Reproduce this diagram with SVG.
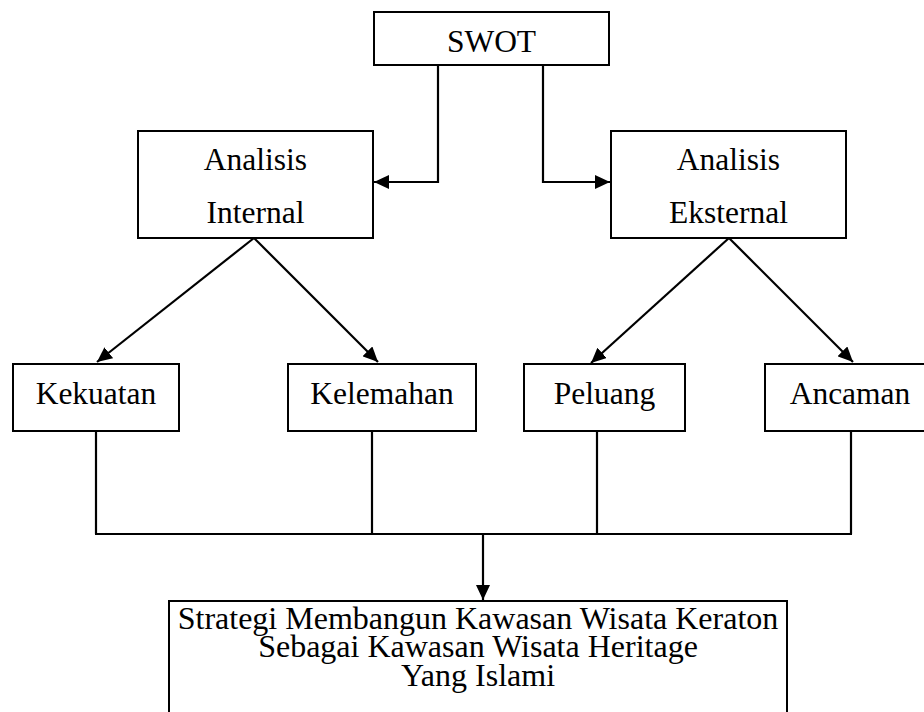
<svg xmlns="http://www.w3.org/2000/svg" width="924" height="712" viewBox="0 0 924 712">
  <style>
    .box { fill: #ffffff; stroke: #000000; stroke-width: 2; }
    .lbl { font-family: "Liberation Serif", "Times New Roman", serif; font-size: 31.5px; fill: #000000; text-anchor: middle; }
    .big { font-size: 32px; }
    .edge { fill: none; stroke: #000000; stroke-width: 2.2; }
  </style>
  <defs>
    <marker id="arr" markerWidth="15" markerHeight="14" refX="15" refY="7" orient="auto" markerUnits="userSpaceOnUse">
      <path d="M0,0 L15,7 L0,14 z" fill="#000000"/>
    </marker>
  </defs>
  <rect x="0" y="0" width="924" height="712" fill="#ffffff"/>

  <g id="connectors">
    <polyline class="edge" points="438,65 438,182 374,182" marker-end="url(#arr)"/>
    <polyline class="edge" points="543,65 543,182 610,182" marker-end="url(#arr)"/>
    <line class="edge" x1="254" y1="238" x2="97" y2="362" marker-end="url(#arr)"/>
    <line class="edge" x1="254" y1="238" x2="378" y2="362" marker-end="url(#arr)"/>
    <line class="edge" x1="729" y1="238" x2="591" y2="363" marker-end="url(#arr)"/>
    <line class="edge" x1="729" y1="238" x2="853" y2="362" marker-end="url(#arr)"/>
    <line class="edge" x1="96" y1="431" x2="96" y2="534"/>
    <line class="edge" x1="372" y1="431" x2="372" y2="534"/>
    <line class="edge" x1="597" y1="431" x2="597" y2="534"/>
    <line class="edge" x1="851" y1="431" x2="851" y2="534"/>
    <line class="edge" x1="95" y1="534" x2="852" y2="534"/>
    <line class="edge" x1="483" y1="534" x2="483" y2="600" marker-end="url(#arr)"/>
  </g>

  <g id="swot">
    <rect class="box" x="374" y="12" width="235" height="53"/>
    <text class="lbl" x="491.5" y="52">SWOT</text>
  </g>
  <g id="analisis-internal">
    <rect class="box" x="138" y="131" width="235" height="107"/>
    <text class="lbl" x="255.5" y="170">Analisis</text>
    <text class="lbl" x="255.5" y="223">Internal</text>
  </g>
  <g id="analisis-eksternal">
    <rect class="box" x="611" y="131" width="235" height="107"/>
    <text class="lbl" x="728.5" y="170">Analisis</text>
    <text class="lbl" x="728.5" y="223">Eksternal</text>
  </g>
  <g id="kekuatan">
    <rect class="box" x="13" y="364" width="166" height="67"/>
    <text class="lbl" x="96" y="404">Kekuatan</text>
  </g>
  <g id="kelemahan">
    <rect class="box" x="288" y="364" width="188" height="67"/>
    <text class="lbl" x="382" y="404">Kelemahan</text>
  </g>
  <g id="peluang">
    <rect class="box" x="524" y="364" width="161" height="67"/>
    <text class="lbl" x="604.5" y="404">Peluang</text>
  </g>
  <g id="ancaman">
    <rect class="box" x="765" y="364" width="170" height="67"/>
    <text class="lbl" x="850" y="404">Ancaman</text>
  </g>
  <g id="strategi">
    <rect class="box" x="169" y="601" width="618" height="120"/>
    <text class="lbl big" x="478" y="629">Strategi Membangun Kawasan Wisata Keraton</text>
    <text class="lbl big" x="478" y="657">Sebagai Kawasan Wisata Heritage</text>
    <text class="lbl big" x="478" y="686">Yang Islami</text>
  </g>
</svg>
